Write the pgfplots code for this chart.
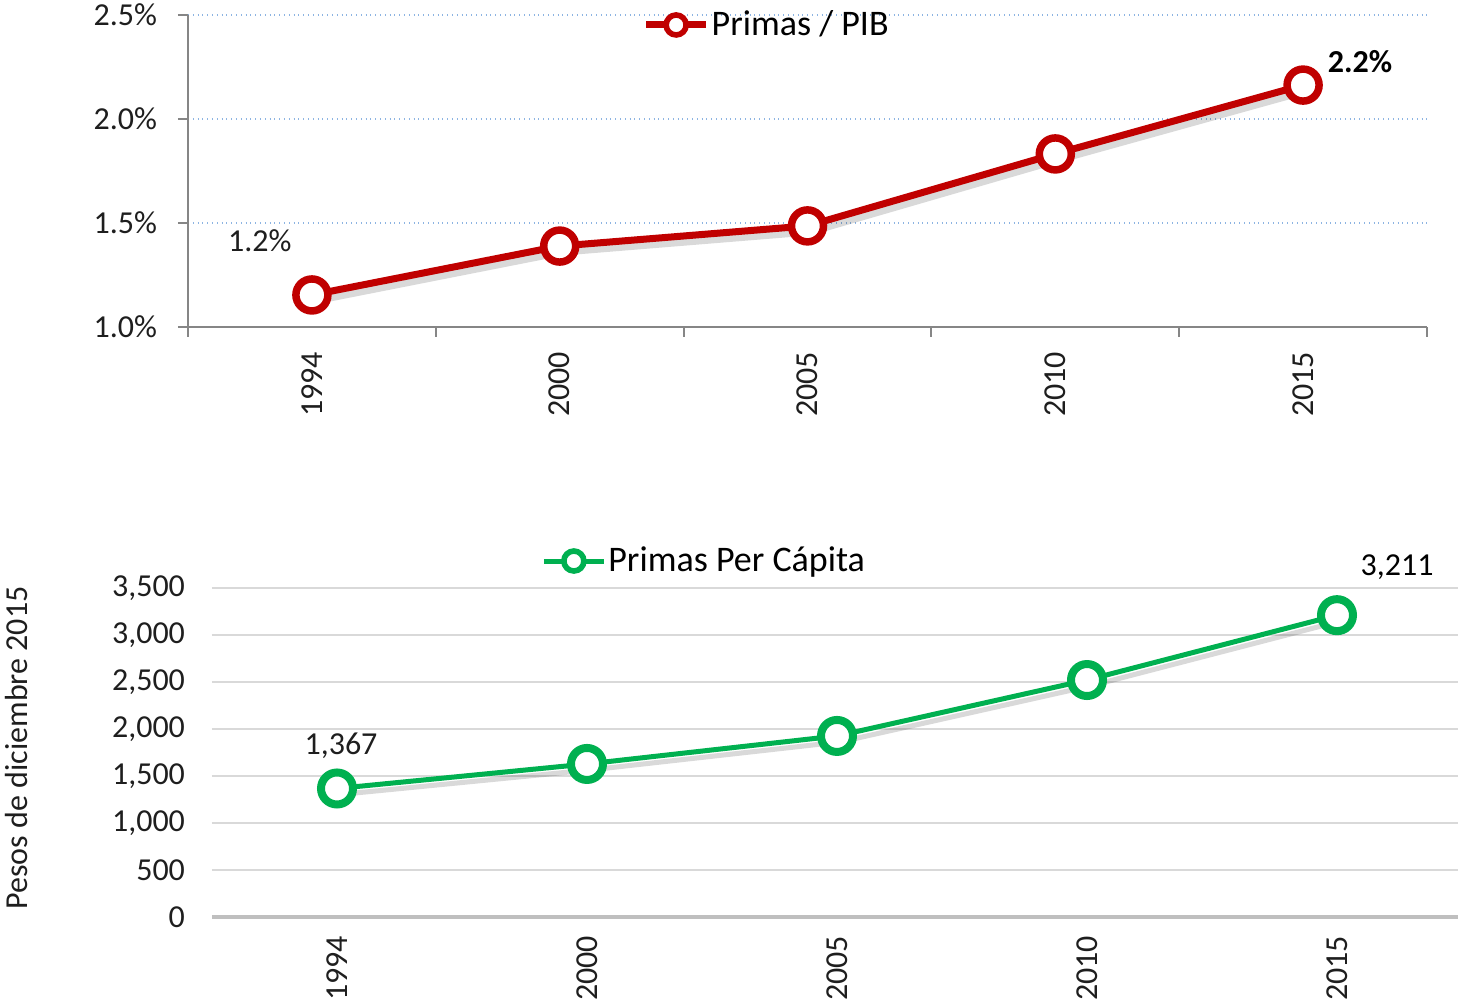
\documentclass[border=0pt]{standalone}
\usepackage{fontspec}
\setmainfont{Carlito}
\usepackage{pgfplots}
\pgfplotsset{compat=1.18}
\definecolor{myred}{RGB}{192,0,0}
\definecolor{mygreen}{RGB}{0,176,80}
\definecolor{gridblue}{RGB}{141,180,226}
\definecolor{gridgray}{RGB}{217,217,217}
\definecolor{axgray}{RGB}{134,134,134}
\definecolor{axlight}{RGB}{191,191,191}
\definecolor{txt}{RGB}{30,30,30}
\begin{document}
\begin{tikzpicture}[x=1pt,y=1pt]
\useasboundingbox (0,0) rectangle (729,502.5);
\pgfplotsset{every axis/.append style={scale only axis, font=\fontsize{16}{19}\selectfont, /pgf/number format/assume math mode=true, clip=false,
  tick label style={txt}},
  legend image code/.code={\draw[mark repeat=2, mark phase=2, #1, mark size=5pt, every mark/.append style={line width=2.8pt}] plot coordinates {(0pt,0pt)(15pt,0pt)(30pt,0pt)};}}
% ---------- top ----------
\begin{axis}[at={(94pt,339pt)}, anchor=south west, width=619.5pt, height=156pt,
  xmin=-0.5, xmax=4.5, ymin=1.0, ymax=2.5,
  axis x line*=bottom, axis y line*=left,
  axis line style={axgray, line width=1pt},
  xtick={0,...,4}, xticklabels={1994,2000,2005,2010,2015},
  minor xtick={-0.5,0.5,...,4.5},
  tick align=outside,
  major x tick style={draw=none},
  minor x tick style={axgray, line width=1pt},
  major y tick style={axgray, line width=1pt},
  major tick length=5pt, minor tick length=5pt,
  ytick={1,1.5,2,2.5}, yticklabels={1.0\%,1.5\%,2.0\%,2.5\%},
  yticklabel style={xshift=-7pt},
  ymajorgrids, grid style={gridblue, dotted, line width=0.8pt},
  xticklabel style={rotate=90, anchor=east, xshift=-4pt},
  legend style={at={(0.467,0.968)}, anchor=center, draw=none, fill=none, font=\fontsize{18}{20}\selectfont, inner sep=0pt,
    nodes={inner sep=1pt}},
]
\addplot[black, opacity=0.15, line width=3.5pt, xshift=1.5pt, yshift=-3pt, forget plot] coordinates {(0,1.154)(1,1.389)(2,1.486)(3,1.832)(4,2.163)};
\addplot[myred, line width=3.5pt, mark=*, mark size=8pt, mark options={fill=white, draw=myred, line width=3.75pt}] coordinates {(0,1.154)(1,1.389)(2,1.486)(3,1.832)(4,2.163)};
\addlegendentry{Primas / PIB}
\node[txt] at (axis cs:-0.21,1.413) {1.2\%};
\node[black, font=\fontsize{16}{19}\selectfont\bfseries] at (axis cs:4.23,2.274) {2.2\%};
\end{axis}
% ---------- bottom ----------
\begin{axis}[at={(106pt,44pt)}, anchor=south west, width=623pt, height=164.5pt,
  xmin=-0.5, xmax=4.484, ymin=0, ymax=3500,
  axis x line*=bottom, axis y line*=left,
  x axis line style={axlight, line width=2pt},
  y axis line style={draw=none},
  xtick={0,...,4}, xticklabels={1994,2000,2005,2010,2015},
  ytick={0,500,...,3500},
  major tick length=0pt,
  ymajorgrids, grid style={gridgray, line width=1pt},
  yticklabel style={xshift=-10pt},
  xticklabel style={rotate=90, anchor=east, xshift=-6pt},
  /pgf/number format/1000 sep={,},
  legend style={at={(0.395,1.082)}, anchor=center, draw=none, fill=none, font=\fontsize{18}{20}\selectfont, inner sep=0pt,
    nodes={inner sep=1pt}},
]
\addplot[black, opacity=0.15, line width=2.5pt, xshift=1.5pt, yshift=-3pt, forget plot] coordinates {(0,1367)(1,1628)(2,1926)(3,2521)(4,3211)};
\addplot[mygreen, line width=2.5pt, mark=*, mark size=8pt, mark options={fill=white, draw=mygreen, line width=4pt}] coordinates {(0,1367)(1,1628)(2,1926)(3,2521)(4,3211)};
\addlegendentry{Primas Per Cápita}
\node[txt] at (axis cs:0.016,1819) {1,367};
\node[black] at (axis cs:4.24,3723) {3,211};
\node[txt, rotate=90] at (rel axis cs:-0.1565,0.514) {Pesos de diciembre 2015};
\end{axis}
\end{tikzpicture}
\end{document}
